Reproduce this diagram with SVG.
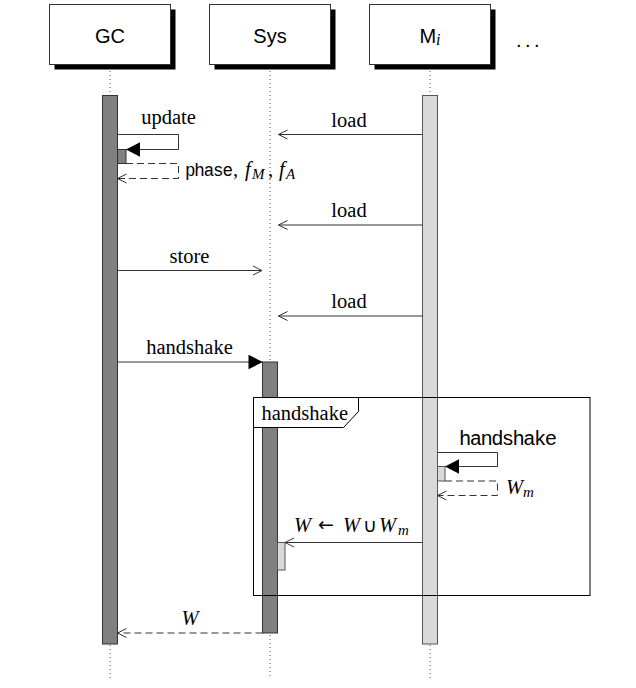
<svg xmlns="http://www.w3.org/2000/svg" width="636" height="688" viewBox="0 0 636 688">
<defs>
<style>
.box{fill:#fff;stroke:#333;stroke-width:1}
.shadow{fill:#000}
.hdr{font-family:"Liberation Sans",Arial,sans-serif;font-size:20px;fill:#000;text-anchor:middle}
.life{stroke:#555;stroke-width:1;stroke-dasharray:1 3;fill:none}
.bar-dark{fill:#808080;stroke:#333;stroke-width:1}
.bar-light{fill:#d9d9d9;stroke:#555;stroke-width:1}
.msg{fill:none;stroke:#333;stroke-width:1}
.ret{fill:none;stroke:#333;stroke-width:1;stroke-dasharray:7 4}
.lbl{font-family:"Liberation Serif","Times New Roman","DejaVu Serif",serif;font-size:20.5px;fill:#000}
.mid{text-anchor:middle}
.tt{font-family:"Liberation Mono","DejaVu Sans Mono",monospace}
.it{font-style:italic}
.sub{font-size:15px;font-style:italic}
.sym{font-family:"DejaVu Sans",sans-serif;font-size:19px}
.frame{fill:none;stroke:#000;stroke-width:1}
.tag{fill:#fff;stroke:#000;stroke-width:1}
</style>
<marker id="open" viewBox="-11 -6 12 12" refX="0" refY="0" markerWidth="12" markerHeight="12" markerUnits="userSpaceOnUse" orient="auto">
<path d="M-9,-4.5 L0,0 L-9,4.5" fill="none" stroke="#333" stroke-width="1"/>
</marker>
<marker id="solid" viewBox="-15 -8 16 16" refX="0" refY="0" markerWidth="16" markerHeight="16" markerUnits="userSpaceOnUse" orient="auto">
<path d="M-14,-7.3 L0,0 L-14,7.3 Z" fill="#000"/>
</marker>
</defs>

<g id="GC">
<rect class="shadow" x="54.5" y="9.5" width="121" height="60"/>
<rect class="box" x="49.5" y="4.5" width="121" height="60"/>
<text class="hdr" x="110" y="42.5">GC</text>
<line class="life" x1="110" y1="71" x2="110" y2="95.5"/>
<line class="life" x1="110" y1="645" x2="110" y2="679"/>
<rect class="bar-dark" x="102.5" y="95.5" width="15" height="548.5"/>
</g>

<g id="Sys">
<rect class="shadow" x="214.5" y="9.5" width="121" height="60"/>
<rect class="box" x="209.5" y="4.5" width="121" height="60"/>
<text class="hdr" x="270" y="42.5">Sys</text>
<line class="life" x1="270" y1="71" x2="270" y2="679"/>
<rect class="bar-dark" x="262.5" y="362" width="15" height="271"/>
</g>

<g id="Mi">
<rect class="shadow" x="374.5" y="9.5" width="121" height="60"/>
<rect class="box" x="369.5" y="4.5" width="121" height="60"/>
<text class="hdr" x="430" y="42.5">M<tspan font-family="'Liberation Serif',serif" font-style="italic" font-size="16" dy="2">i</tspan></text>
<line class="life" x1="430" y1="71" x2="430" y2="95.5"/>
<line class="life" x1="430" y1="645" x2="430" y2="679"/>
<rect class="bar-light" x="422.5" y="95.5" width="15" height="548.5"/>
</g>

<g id="more">
<text x="516" y="47" font-family="'Liberation Sans',Arial,sans-serif" font-size="20" letter-spacing="3.5">...</text>
</g>

<g id="activations">
<rect class="bar-dark" x="117.5" y="149.5" width="8.5" height="14"/>
<rect class="bar-light" x="437.5" y="466.5" width="7.5" height="14.5"/>
<rect class="bar-light" x="277.5" y="542.5" width="7.5" height="27.5"/>
</g>

<g id="frame-handshake">
<rect class="frame" x="253.5" y="397.5" width="336.5" height="198"/>
<path class="tag" d="M253.5,397.5 H358.5 V411.5 L343.5,427.5 H253.5 Z"/>
<text class="lbl" x="261.5" y="419.5">handshake</text>
</g>

<g id="connectors">
<path class="msg" d="M422.5,134.5 H278.5" marker-end="url(#open)"/>
<path class="msg" d="M117.5,134.5 H178.5 V149.5 H126" marker-end="url(#solid)"/>
<path class="ret" d="M126,163.5 H178.5 V178.5 H117.5" marker-end="url(#open)"/>
<path class="msg" d="M422.5,225 H278.5" marker-end="url(#open)"/>
<path class="msg" d="M117.5,270.5 H262" marker-end="url(#open)"/>
<path class="msg" d="M422.5,316 H278.5" marker-end="url(#open)"/>
<path class="msg" d="M117.5,362 H262.5" marker-end="url(#solid)"/>
<path class="msg" d="M437.5,452.5 H497.5 V466.5 H445" marker-end="url(#solid)"/>
<path class="ret" d="M445,481 H497.5 V495.5 H437.5" marker-end="url(#open)"/>
<path class="msg" d="M422.5,542.5 H285" marker-end="url(#open)"/>
<path class="ret" d="M262.5,633 H117.5" marker-end="url(#open)"/>
</g>

<g id="labels">
<text class="lbl mid" x="168.5" y="123.5">update</text>
<text class="lbl mid" x="349" y="127">load</text>
<text class="lbl" y="176"><tspan class="tt" x="185" font-size="17.5" textLength="48">phase</tspan><tspan x="233">,</tspan><tspan class="it" x="245">f</tspan><tspan class="sub" x="252" dy="3">M</tspan><tspan x="268" dy="-3">,</tspan><tspan class="it" x="279">f</tspan><tspan class="sub" x="286" dy="3">A</tspan></text>
<text class="lbl mid" x="349" y="217">load</text>
<text class="lbl mid" x="189.5" y="263">store</text>
<text class="lbl mid" x="349" y="307.5">load</text>
<text class="lbl mid" x="189.5" y="353.5">handshake</text>
<text class="lbl tt" x="459" y="445" font-size="18" textLength="98">handshake</text>
<text class="lbl" x="506" y="494"><tspan class="it">W</tspan><tspan class="sub" dy="3">m</tspan></text>
<text class="lbl" y="532"><tspan class="it" x="294">W</tspan><tspan class="sym" x="318" dy="-1">←</tspan><tspan class="it" x="343" dy="1">W</tspan><tspan class="sym" x="363" font-size="21">∪</tspan><tspan class="it" x="379">W</tspan><tspan class="sub" x="398" dy="3">m</tspan></text>
<text class="lbl it mid" x="190" y="625">W</text>
</g>
</svg>
